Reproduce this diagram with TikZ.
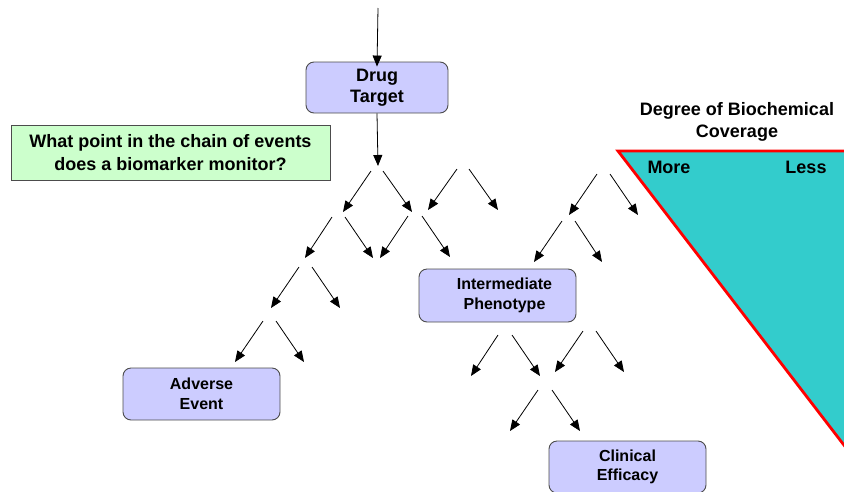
\documentclass[tikz,border=0pt]{standalone}
\usepackage{fontspec}
\setmainfont{Liberation Sans}
\usetikzlibrary{arrows.meta,%
		positioning}

\definecolor{lavanda}{RGB}{204,204,255}
\definecolor{verdino}{RGB}{204,255,204}
\definecolor{turchese}{RGB}{51,204,204}

\tikzset{
	scatola/.style={draw=black!70, fill=lavanda, rounded corners=8pt, line width=0.9pt,
		align=center, minimum width=157pt, minimum height=52pt,
		font=\bfseries\fontsize{16}{19.5}\selectfont},
	freccia/.style={-{Triangle[length=11pt,width=9pt]}, line width=0.8pt},
	grande/.style={font=\bfseries\fontsize{18}{22}\selectfont, align=center}
}

\begin{document}
\begin{tikzpicture}[x=1pt,y=-1pt]
\clip (0,0) rectangle (844,491);
%triangolo
\draw[fill=turchese, draw=red, line width=2.8pt] (618,151) -- (880,151) -- (880,492) -- cycle;
\node[grande] (grado) at (737,122) {Degree of Biochemical\\Coverage};
\node[grande] (piu) at (669,167) {More};
\node[grande] (meno) at (806,167) {Less};
%domanda
\node[grande, draw=black!70, fill=verdino, line width=0.9pt, minimum width=319pt,
	minimum height=55pt, inner sep=0pt] (domanda) at (170.5,152.5)
	{What point in the chain of events\\[1pt]does a biomarker monitor?};
%scatole
\node[scatola, minimum width=142pt, minimum height=51pt,
	font=\bfseries\fontsize{18}{21}\selectfont] (bersaglio) at (377,87.5) {Drug\\Target};
\node[scatola, minimum height=53pt] (fenotipo) at (497.5,295.5) {\hspace*{14pt}Intermediate\\\hspace*{14pt}Phenotype};
\node[scatola] (avverso) at (201.5,394) {Adverse\\Event};
\node[scatola] (efficacia) at (627.5,467) {Clinical\\Efficacy};
%frecce
\coordinate (inizio) at (378,8);
\coordinate (nodo) at (378,166);
\draw[freccia] (inizio) -- ([yshift=-5pt]bersaglio.north);
\draw[freccia] (bersaglio.south) -- (nodo);
\foreach \xa/\ya/\xb/\yb [count=\n] in {371/171/343/212, 383/171/412/212,
	457/169/428/210, 469/169/498/210, 332/217/305/258, 345/217/373/258,
	408/216/380/258, 422/216/450/257, 597/174/569/215, 610/174/638/215,
	562/221/534/262, 575/221/602/262, 299/267/271/308, 312/267/340/308,
	263/321/235/362, 276/321/304/362, 498/335/471/376, 512/335/540/376,
	583/331/555/372, 596/331/624/372, 538/390/510/431, 552/390/580/431}{
	\coordinate (p\n) at (\xa,\ya);
	\coordinate (q\n) at (\xb,\yb);
	\draw[freccia] (p\n) -- (q\n);
}
\end{tikzpicture}
\end{document}
